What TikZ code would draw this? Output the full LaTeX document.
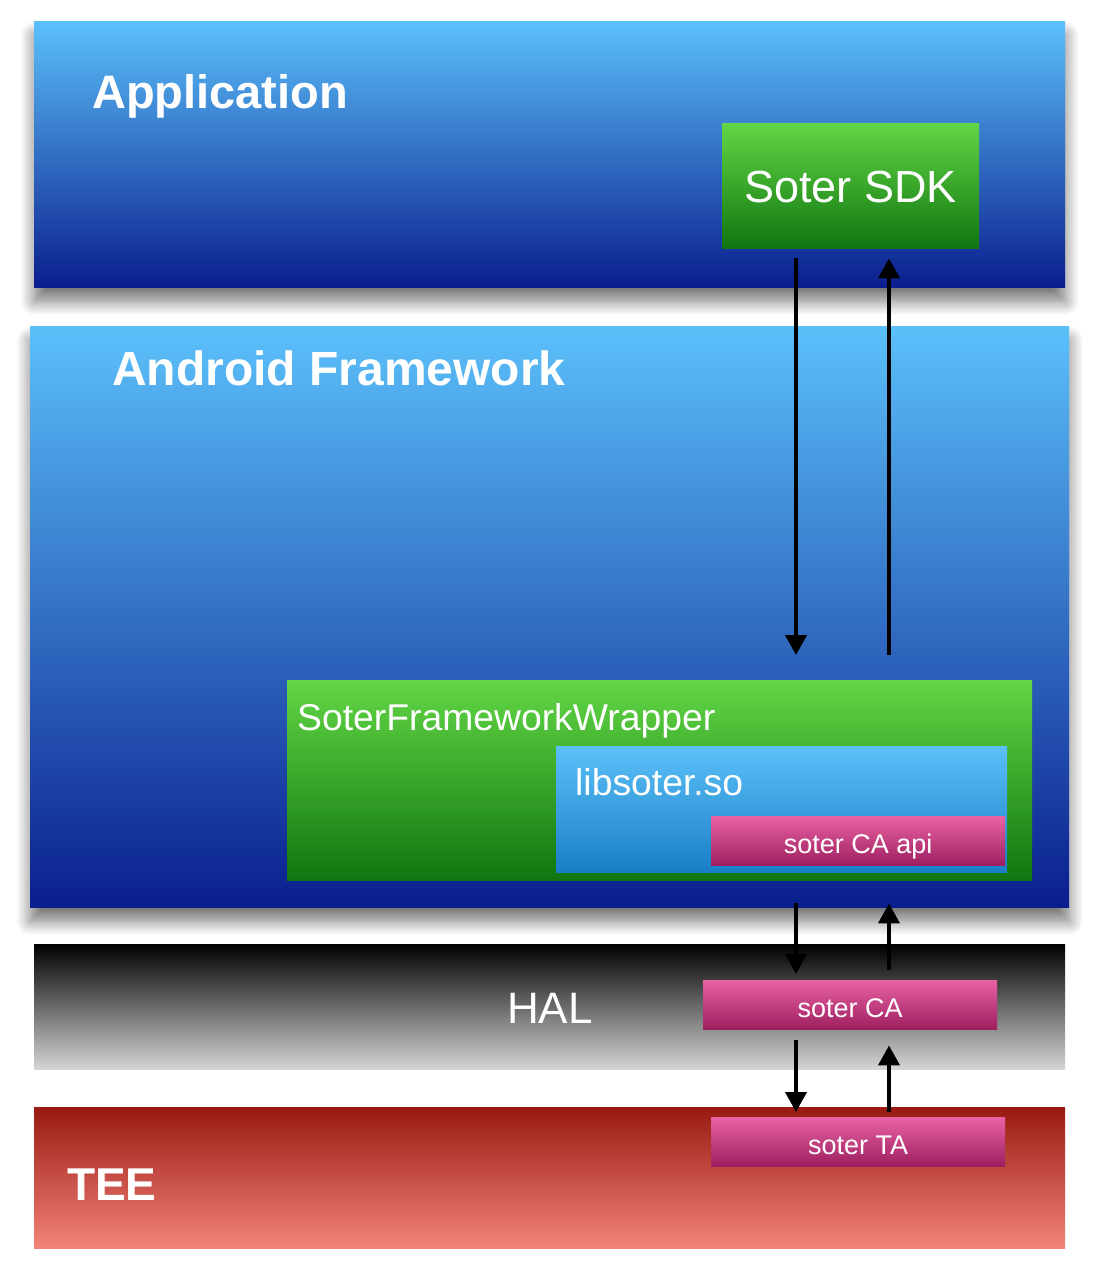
\documentclass[tikz,border=0pt]{standalone}
\usepackage{fontspec}
\setmainfont{Liberation Sans}
\usetikzlibrary{positioning,calc,arrows.meta,shadows.blur}
\definecolor{bluetop}{HTML}{5BC0FA}
\definecolor{bluebot}{HTML}{0A1E8E}
\definecolor{greentop}{HTML}{62D645}
\definecolor{greenbot}{HTML}{107510}
\definecolor{libtop}{HTML}{5BC0F8}
\definecolor{libbot}{HTML}{1A7EC6}
\definecolor{pinktop}{HTML}{E862A2}
\definecolor{pinkbot}{HTML}{9E1F60}
\definecolor{haltop}{HTML}{000000}
\definecolor{halbot}{HTML}{D5D5D5}
\definecolor{teetop}{HTML}{981A12}
\definecolor{teebot}{HTML}{F4837A}
\tikzset{blk/.style={rectangle, inner sep=0pt, anchor=north west, text=white}}
\tikzset{bluebox/.style={blk, top color=bluetop, bottom color=bluebot}}
\tikzset{greenbox/.style={blk, top color=greentop, bottom color=greenbot}}
\tikzset{libbox/.style={blk, top color=libtop, bottom color=libbot}}
\tikzset{pinkbox/.style={blk, top color=pinktop, bottom color=pinkbot, minimum width=294pt, minimum height=49pt, text height=25pt, text depth=0pt, font=\fontsize{27}{30}\selectfont}}
\tikzset{soft/.style={blur shadow={shadow xshift=0pt, shadow yshift=-14pt, shadow blur radius=14pt, shadow blur steps=12, shadow opacity=55}}}
\tikzset{title/.style={anchor=base west, inner sep=0pt, text=white}}
\tikzset{flow/.style={line width=4pt, -{Triangle[length=20pt,width=21pt]}}}

\begin{document}
\begin{tikzpicture}[x=1pt, y=-1pt]
\useasboundingbox (0,0) rectangle (1100,1278);
% layers
\node[bluebox, soft, minimum width=1031pt, minimum height=266pt] (app) at (34,21) {};
\node[bluebox, soft, minimum width=1039pt, minimum height=581pt] (fw) at (30,326) {};
\node[blk, top color=haltop, bottom color=halbot, minimum width=1031pt, minimum height=125pt] (hal) at (34,944) {};
\node[blk, top color=teetop, bottom color=teebot, minimum width=1031pt, minimum height=141pt] (tee) at (34,1107) {};
%
\node[title, font=\fontsize{47}{50}\selectfont\bfseries] (apptext) at (92,108) {Application};
\node[title, font=\fontsize{48}{50}\selectfont\bfseries] (fwtext) at (112,385) {Android Framework};
\node[title, font=\fontsize{44}{48}\selectfont] (haltext) at (507,1023) {HAL};
\node[title, font=\fontsize{46}{50}\selectfont\bfseries] (teetext) at (67,1200) {TEE};
% inner blocks
\node[greenbox, minimum width=257pt, minimum height=125pt, text height=33pt, text depth=0pt, font=\fontsize{45}{48}\selectfont] (sdk) at (722,123) {Soter SDK};
\node[greenbox, minimum width=745pt, minimum height=200pt] (wrap) at (287,680) {};
\node[title, font=\fontsize{37.3}{40}\selectfont] (wraptext) at (297,730) {SoterFrameworkWrapper};
\node[libbox, minimum width=451pt, minimum height=126pt] (lib) at (556,746) {};
\node[title, font=\fontsize{37.3}{40}\selectfont] (libtext) at (575,795) {libsoter.so};
\node[pinkbox] (caapi) at (711,816) {soter CA api};
\node[pinkbox] (ca) at (703,980) {soter CA};
\node[pinkbox] (ta) at (711,1117) {soter TA};
%
\coordinate (dn) at (796,0);
\coordinate (up) at (889,0);
\draw[flow, shorten <=10pt, shorten >=25pt] (sdk.south -| dn) -- (wrap.north -| dn);
\draw[flow, shorten <=25pt, shorten >=10pt] (wrap.north -| up) -- (sdk.south -| up);
\draw[flow, shorten <=-4pt, shorten >=6pt] (fw.south -| dn) -- (ca.north -| dn);
\draw[flow, shorten <=10pt, shorten >=-4pt] (ca.north -| up) -- (fw.south -| up);
\draw[flow, shorten <=11pt, shorten >=5pt] (ca.south -| dn) -- (ta.north -| dn);
\draw[flow, shorten <=5pt, shorten >=16pt] (ta.north -| up) -- (ca.south -| up);
\end{tikzpicture}
\end{document}
